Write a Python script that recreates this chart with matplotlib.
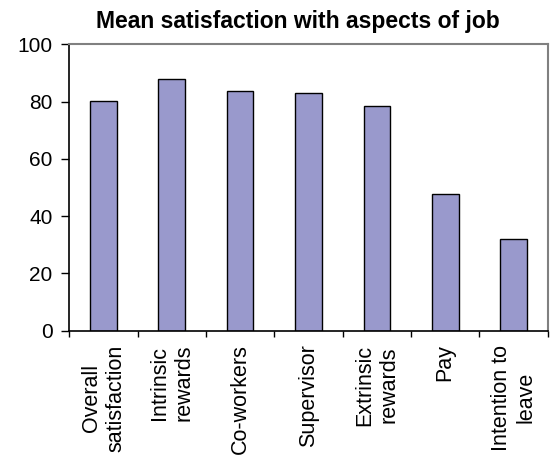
import numpy as np
import matplotlib
matplotlib.use("Agg")
import matplotlib.pyplot as plt

categories = ["Overall\nsatisfaction", "Intrinsic\nrewards", "Co-workers",
              "Supervisor", "Extrinsic\nrewards", "Pay", "Intention to\nleave"]
values = [80.2, 87.8, 83.6, 83.0, 78.6, 47.6, 32.1]
y_ticks = [0, 20, 40, 60, 80, 100]

plt.rcParams['font.family'] = ['Liberation Sans', 'DejaVu Sans']

fig = plt.figure(figsize=(5.5, 4.57), dpi=100)
ax = fig.add_axes([0.126, 0.2764, 0.8698, 0.6266])

x = np.arange(len(categories))
ax.bar(x, values, width=0.39, color='#9999cc', edgecolor='black', linewidth=1.0)

ax.set_xlim(-0.5, len(categories) - 0.5)
ax.set_ylim(0, 100)
ax.set_yticks(y_ticks)
ax.set_yticklabels([str(t) for t in y_ticks], fontsize=15)

ax.set_xticks(x)
ax.set_xticklabels(categories, rotation=90, fontsize=15.5, ha='center', va='top',
                   multialignment='center')
ax.set_xticks(np.arange(-0.5, len(categories), 1.0), minor=True)
ax.tick_params(axis='x', which='major', length=0, pad=10)
ax.tick_params(axis='x', which='minor', length=4, width=1, direction='out')
ax.tick_params(axis='y', length=6, width=1, direction='out', pad=6)

for side in ['top', 'right']:
    ax.spines[side].set_color('#808080')
    ax.spines[side].set_linewidth(1.5)
for side in ['left', 'bottom']:
    ax.spines[side].set_color('black')
    ax.spines[side].set_linewidth(1.2)

fig.text(0.542, 0.938, "Mean satisfaction with aspects of job", ha='center', va='baseline',
         fontsize=16.5, fontweight='bold')

fig.savefig("out.png", dpi=100)
